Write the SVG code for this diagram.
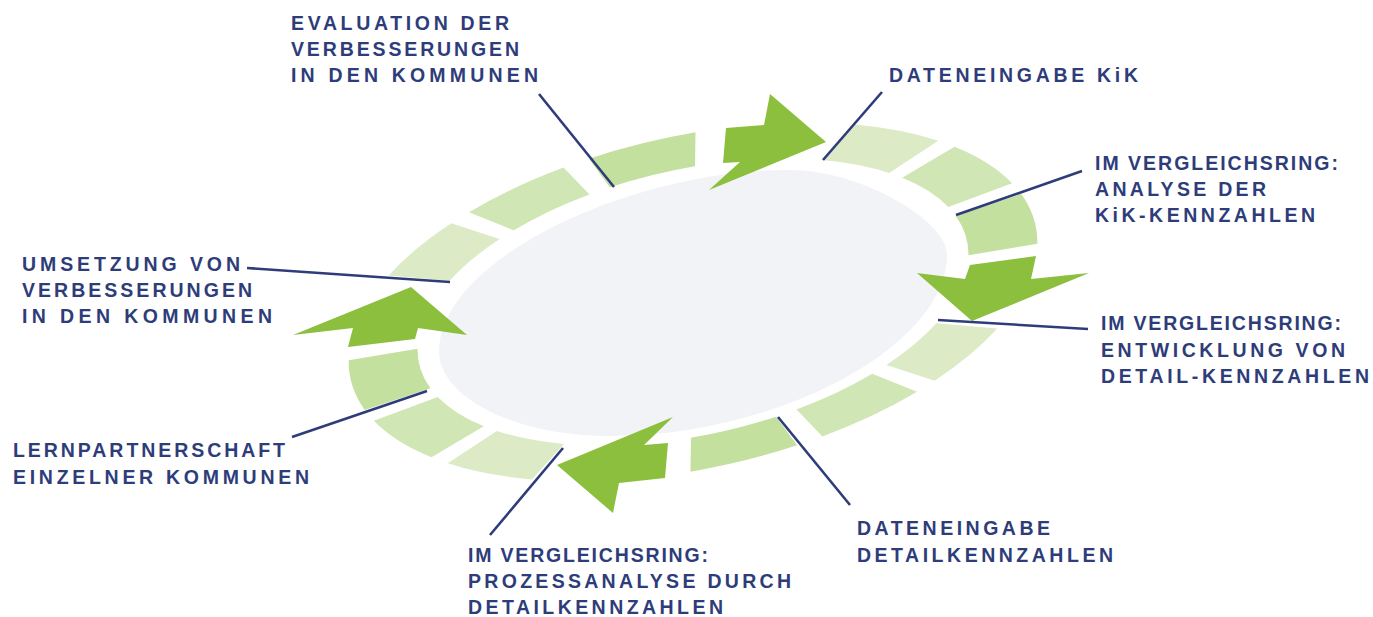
<svg xmlns="http://www.w3.org/2000/svg" xmlns:xlink="http://www.w3.org/1999/xlink" width="1373" height="617" viewBox="0 0 1373 617">
  <style>
    .lbl { font-family: "Liberation Sans", Arial, sans-serif; font-weight: bold; font-size: 19.5px; fill: #2e3d7a; }
    .lead { stroke: #2e3d7a; stroke-width: 2.6; fill: none; }
    .arrow { fill: #8bbf3d; }
    .s1 { fill: #dcebc6; }
    .s2 { fill: #d0e6b4; }
    .s3 { fill: #c4e09e; }
  </style>
  <defs>
    <!-- one quarter of the ring: three band pieces in unit-circle space (outer r=100, inner r=80) -->
    <g id="quarter">
      <path class="s1" d="M55.92,-82.90 A100,100 0 0 1 78.26,-62.25 L62.61,-49.80 A80,80 0 0 0 44.74,-66.32 Z"/>
      <path class="s2" d="M82.41,-56.64 A100,100 0 0 1 96.13,-27.56 L76.90,-22.05 A80,80 0 0 0 65.93,-45.31 Z"/>
      <path class="s3" d="M97.99,-19.94 A100,100 0 0 1 99.36,11.32 L79.49,9.06 A80,80 0 0 0 78.39,-15.95 Z"/>
    </g>
  </defs>
  <rect width="1373" height="617" fill="#ffffff"/>

  <!-- centre field -->
  <path id="field" d="M439,351 C439,262 625,170 790,170 C860,170 947,220 947,255 C947,345 780,436 610,436 C516,436 439,398 439,351 Z" fill="#f2f3f7"/>

  <!-- segmented ring -->
  <g id="ring" transform="translate(693,302) rotate(-12.7) scale(3.51,1.66)">
    <use xlink:href="#quarter"/>
    <use xlink:href="#quarter" transform="rotate(90)"/>
    <use xlink:href="#quarter" transform="rotate(180)"/>
    <use xlink:href="#quarter" transform="rotate(270)"/>
  </g>

  <!-- cycle arrows -->
  <g id="arrows">
    <polygon class="arrow" points="726,128 764,125 770,94 826,142 709,190 740,162 723,163"/>
    <polygon class="arrow" points="970,265 1036,256 1031,279 1089,273 972,321 917,273 965,279"/>
    <polygon class="arrow" points="673,417 644,445 668,443 665,478 619,483 613,513 557,465"/>
    <polygon class="arrow" points="293,335 411,287 467,335 418,328 415,339 348,347 353,328"/>
  </g>

  <!-- leader lines -->
  <g id="connectors">
    <line class="lead" x1="539" y1="94" x2="614" y2="187"/>
    <line class="lead" x1="882" y1="92" x2="823" y2="160"/>
    <line class="lead" x1="1082" y1="171" x2="956" y2="215"/>
    <line class="lead" x1="1088" y1="329" x2="938" y2="320"/>
    <line class="lead" x1="850" y1="505" x2="778" y2="417"/>
    <line class="lead" x1="490" y1="535" x2="563" y2="448"/>
    <line class="lead" x1="292" y1="437" x2="427" y2="391"/>
    <line class="lead" x1="247" y1="268" x2="450" y2="282"/>
  </g>

  <!-- labels -->
  <g id="evaluation">
    <text class="lbl" x="291" y="30" textLength="218" lengthAdjust="spacing">EVALUATION DER</text>
    <text class="lbl" x="291" y="56" textLength="228" lengthAdjust="spacing">VERBESSERUNGEN</text>
    <text class="lbl" x="291" y="81.5" textLength="247" lengthAdjust="spacing">IN DEN KOMMUNEN</text>
  </g>
  <g id="dateneingabe-kik">
    <text class="lbl" x="889" y="82" textLength="249" lengthAdjust="spacing">DATENEINGABE KiK</text>
  </g>
  <g id="analyse">
    <text class="lbl" x="1095" y="170" textLength="243" lengthAdjust="spacing">IM VERGLEICHSRING:</text>
    <text class="lbl" x="1095" y="195.5" textLength="171" lengthAdjust="spacing">ANALYSE DER</text>
    <text class="lbl" x="1095" y="221.5" textLength="220" lengthAdjust="spacing">KiK-KENNZAHLEN</text>
  </g>
  <g id="entwicklung">
    <text class="lbl" x="1101" y="330" textLength="240" lengthAdjust="spacing">IM VERGLEICHSRING:</text>
    <text class="lbl" x="1101" y="356.5" textLength="244" lengthAdjust="spacing">ENTWICKLUNG VON</text>
    <text class="lbl" x="1101" y="383" textLength="268" lengthAdjust="spacing">DETAIL-KENNZAHLEN</text>
  </g>
  <g id="dateneingabe-detail">
    <text class="lbl" x="857" y="535" textLength="193" lengthAdjust="spacing">DATENEINGABE</text>
    <text class="lbl" x="857" y="561.5" textLength="256" lengthAdjust="spacing">DETAILKENNZAHLEN</text>
  </g>
  <g id="prozessanalyse">
    <text class="lbl" x="468" y="562" textLength="240" lengthAdjust="spacing">IM VERGLEICHSRING:</text>
    <text class="lbl" x="468" y="588" textLength="323" lengthAdjust="spacing">PROZESSANALYSE DURCH</text>
    <text class="lbl" x="468" y="614" textLength="255" lengthAdjust="spacing">DETAILKENNZAHLEN</text>
  </g>
  <g id="lernpartnerschaft">
    <text class="lbl" x="13" y="456.5" textLength="272" lengthAdjust="spacing">LERNPARTNERSCHAFT</text>
    <text class="lbl" x="13" y="483.5" textLength="296" lengthAdjust="spacing">EINZELNER KOMMUNEN</text>
  </g>
  <g id="umsetzung">
    <text class="lbl" x="22" y="271" textLength="218" lengthAdjust="spacing">UMSETZUNG VON</text>
    <text class="lbl" x="22" y="297" textLength="230" lengthAdjust="spacing">VERBESSERUNGEN</text>
    <text class="lbl" x="22" y="323" textLength="250" lengthAdjust="spacing">IN DEN KOMMUNEN</text>
  </g>
</svg>
